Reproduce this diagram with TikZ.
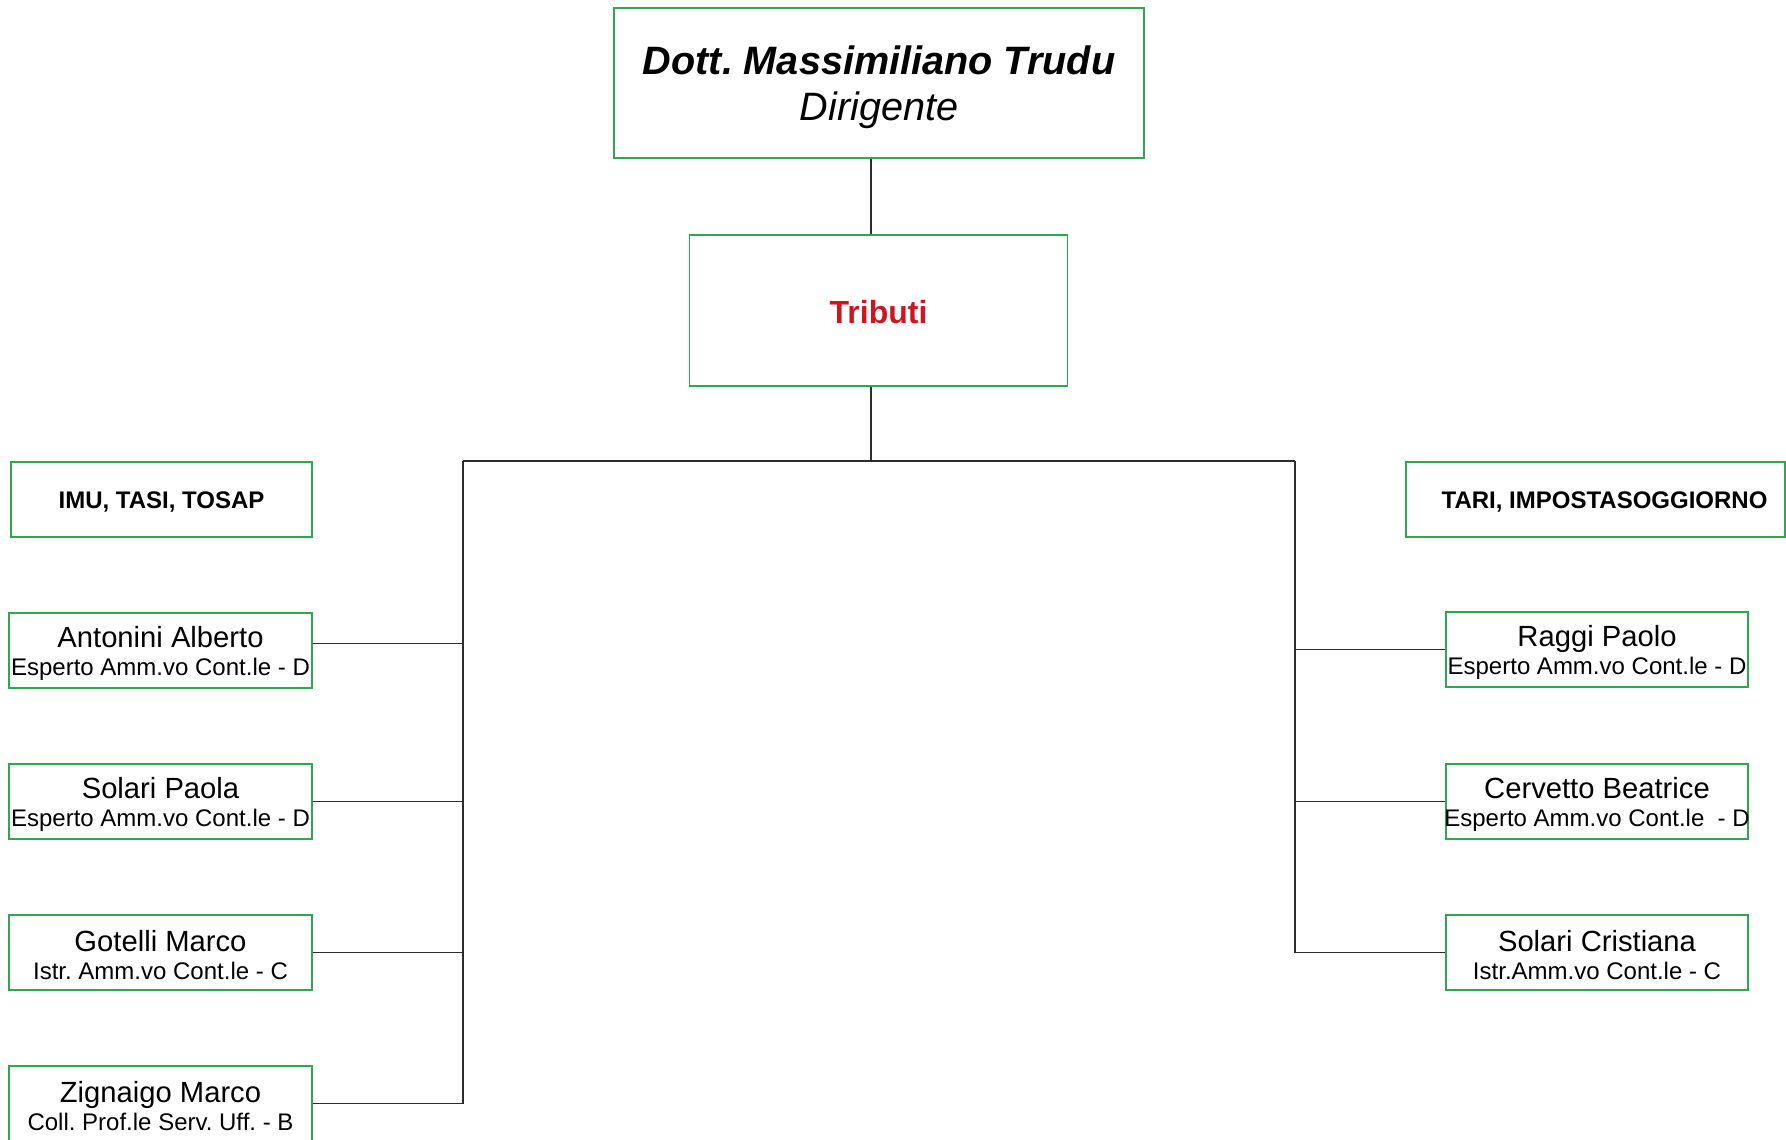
\documentclass[tikz,border=0pt]{standalone}
\usepackage{fontspec}
\setmainfont{Liberation Sans}
\frenchspacing
\definecolor{green1}{RGB}{45,168,80}
\definecolor{red1}{RGB}{204,22,32}
\definecolor{gray1}{RGB}{45,45,45}
\tikzset{
  box/.style={draw=green1, line width=0.6pt, rectangle, inner sep=0pt},
  person/.style={box, minimum width=151.5pt, minimum height=37.5pt},
  head/.style={box, minimum height=37.5pt},
  ptext/.style={align=center, inner sep=0pt, yshift=-1.5pt, font=\fontsize{12}{14}\selectfont},
  htext/.style={inner sep=0pt, yshift=-1.2pt, font=\fontsize{12}{14}\selectfont\bfseries},
  link/.style={draw=gray1, line width=0.6pt}
}
\newcommand{\pname}[1]{{\fontsize{14.6}{14}\selectfont #1}}

\begin{document}
\begin{tikzpicture}[x=0.5pt,y=-0.5pt]
\useasboundingbox (0,0) rectangle (1786,1139);

\node[box, minimum width=265pt, minimum height=75pt,
  label={[align=center, inner sep=0pt, yshift=-2pt, font=\fontsize{19.8}{23}\selectfont]center:{{\bfseries\itshape Dott. Massimiliano Trudu}\\\itshape Dirigente}}] (dir) at (879,83) {};
\node[box, minimum width=189pt, minimum height=75.5pt,
  label={[inner sep=0pt, yshift=-1pt, font=\fontsize{16}{18}\selectfont\bfseries, text=red1]center:Tributi}] (trib) at (878.5,310.5) {};

\node[head, minimum width=150.5pt, label={[htext]center:{IMU, TASI, TOSAP}}] (imu) at (161.5,499.5) {};
\node[head, minimum width=189.5pt, label={[htext, xshift=4.5pt]center:{TARI, IMPOSTASOGGIORNO}}] (tari) at (1595.5,499.5) {};

\node[person, label={[ptext]center:{\pname{Antonini Alberto}\\Esperto Amm.vo Cont.le - D}}] (ant) at (160.5,650.5) {};
\node[person, label={[ptext]center:{\pname{Solari Paola}\\Esperto Amm.vo Cont.le - D}}] (sol) at (160.5,801.5) {};
\node[person, label={[ptext]center:{\pname{Gotelli Marco}\\Istr. Amm.vo Cont.le - C}}] (got) at (160.5,952.5) {};
\node[person, label={[ptext]center:{\pname{Zignaigo Marco}\\Coll. Prof.le Serv. Uff. - B}}] (zig) at (160.5,1103.5) {};

\node[person, minimum width=151pt, label={[ptext]center:{\pname{Raggi Paolo}\\Esperto Amm.vo Cont.le - D}}] (rag) at (1597,649.5) {};
\node[person, minimum width=151pt, label={[ptext]center:{\pname{Cervetto Beatrice}\\Esperto Amm.vo Cont.le\ \ - D}}] (cer) at (1597,801.5) {};
\node[person, minimum width=151pt, label={[ptext]center:{\pname{Solari Cristiana}\\Istr.Amm.vo Cont.le - C}}] (scr) at (1597,952.5) {};

\coordinate (busM) at (871,461);
\coordinate (busL) at (463,461);
\coordinate (busR) at (1295,461);

\draw[link] (busM |- dir.south) -- (busM |- trib.north);
\draw[link] (busM |- trib.south) -- (busM);
\draw[link] (busL) -- (busR);
\draw[link] (busL) -- (busL |- zig.east);
\draw[link] (busR) -- (busR |- scr.east);
\draw[link] ([yshift=3.5pt]ant.east) -- ([yshift=3.5pt]ant.east -| busL);
\foreach \n in {sol,got,zig}
{
\draw[link] (\n.east) -- (\n.east -| busL);
}
\foreach \n in {rag,cer,scr}
{
\draw[link] (\n.west) -- (\n.west -| busR);
}
\end{tikzpicture}
\end{document}
